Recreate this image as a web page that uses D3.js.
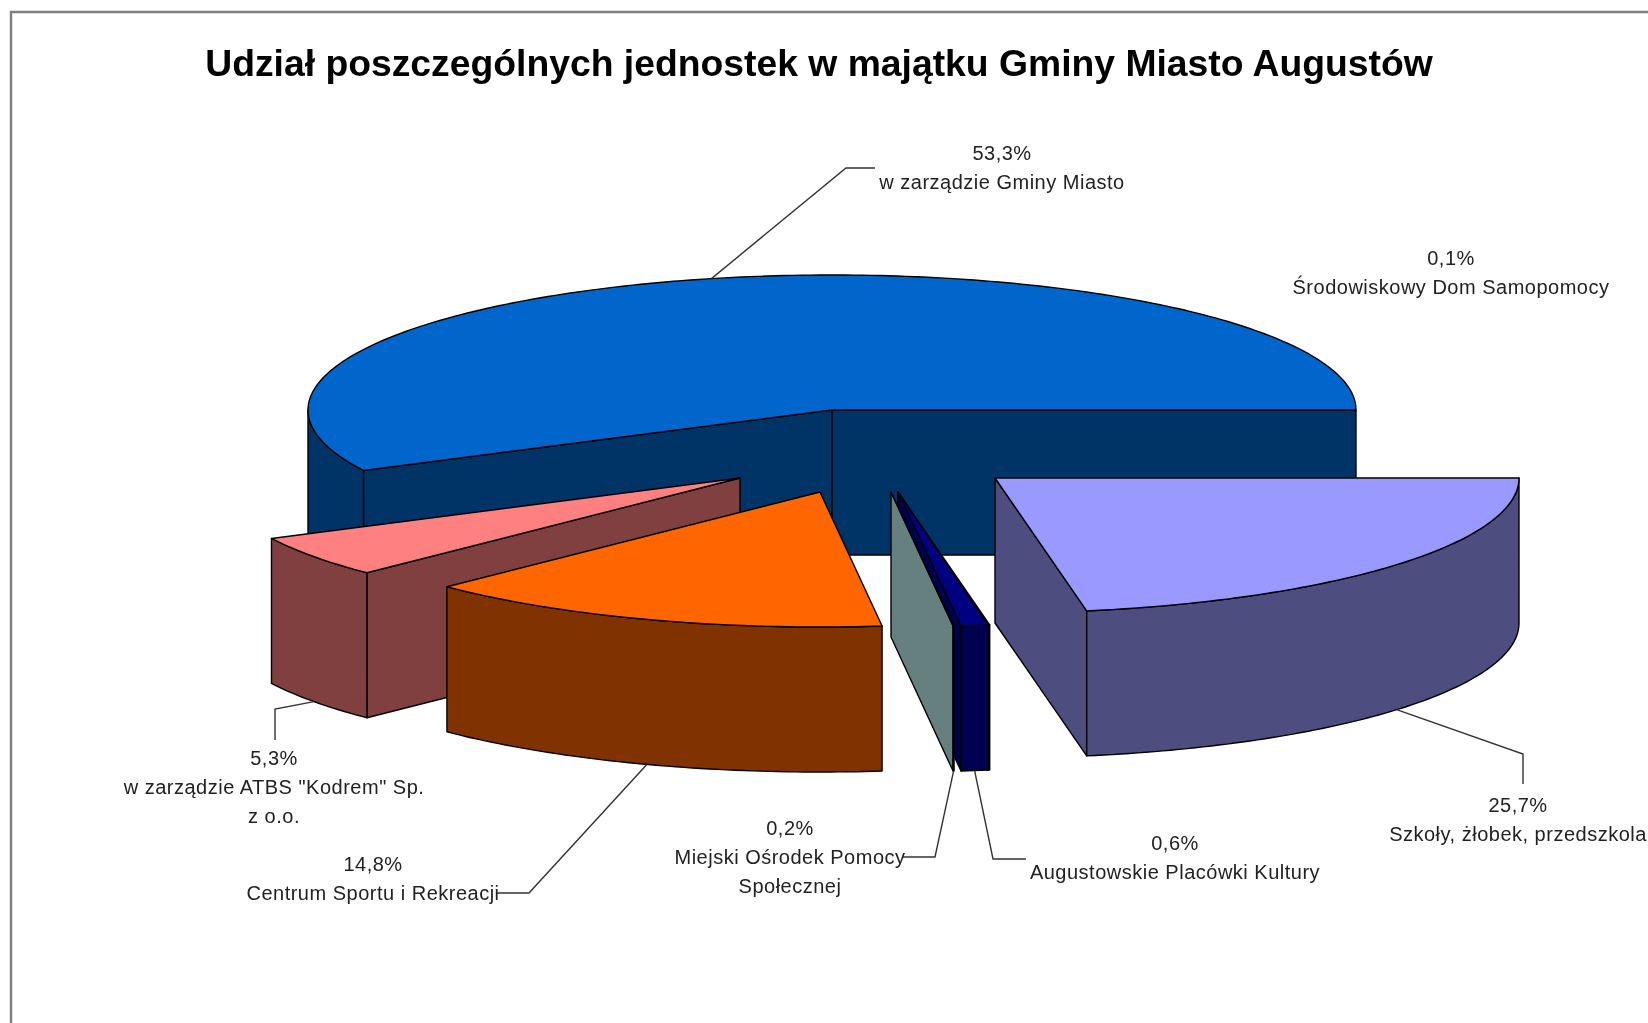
<!DOCTYPE html>
<html>
<head>
<meta charset="utf-8">
<script src="https://cdn.jsdelivr.net/npm/d3@7"></script>
<style>
  html, body { margin: 0; padding: 0; background: #fff; overflow: hidden; }
  text { font-family: "Liberation Sans", Arial, sans-serif; }
  #chart { filter: blur(0.5px); display: block; }
</style>
</head>
<body>
<svg id="chart" width="1648" height="1023"></svg>
<script>
const title = 'Udział poszczególnych jednostek w majątku Gminy Miasto Augustów';

// clockwise from the east edge of the pie, same order as in the picture
const categories = [
    ['Szkoły, żłobek, przedszkola'],
    ['Środowiskowy Dom Samopomocy'],
    ['Augustowskie Placówki Kultury'],
    ['Miejski Ośrodek Pomocy', 'Społecznej'],
    ['Centrum Sportu i Rekreacji'],
    ['w zarządzie ATBS "Kodrem" Sp.', 'z o.o.'],
    ['w zarządzie Gminy Miasto']
];
const percents = [25.7, 0.1, 0.6, 0.2, 14.8, 5.3, 53.3];
// share of the drawn circle as measured on the picture (the 3D view warps it away from the printed %)
const drawnShares = [22.2, 0.05, 0.83, 0.03, 14.5, 5.0, 57.39];

const topColors = ['#9999ff', '#660033', '#000080', '#ccffff', '#ff6600', '#ff8080', '#0066cc'];
const wallColors = ['#4d4d80', '#400020', '#000050', '#668080', '#803300', '#804040', '#003366'];

const svg = d3.select('#chart');

// pie geometry
const center = {x: 832, y: 410};
const rx = 524, ry = 135, depth = 145;
const explode = [[163, 68], [66, 82], [66, 82], [59, 82], [-12, 82], [-92, 68], [0, 0]];
const drawOrder = [6, 5, 4, 1, 2, 3, 0];

// elbow + text anchor of each callout
const callouts = [
    {elbow: [[1523, 754], [1523, 784]], tx: 1518, ty: 805},
    {elbow: [], tx: 1451, ty: 258},
    {elbow: [[993, 859], [1026, 859]], tx: 1175, ty: 843},
    {elbow: [[935, 857], [902, 857]], tx: 790, ty: 828},
    {elbow: [[529, 893], [497, 893]], tx: 373, ty: 864},
    {elbow: [[275, 709], [275, 740]], tx: 274, ty: 758},
    {elbow: [[846, 168], [875, 168]], tx: 1002, ty: 153}
];

const xScale = d3.scaleLinear().domain([-1, 1]).range([-rx, rx]);
const yScale = d3.scaleLinear().domain([-1, 1]).range([-ry, ry]);

const pie = d3.pie().sort(null).startAngle(Math.PI / 2).endAngle(Math.PI * 2.5);
const slices = pie(drawnShares);

const line = d3.line();

// point on the rim of slice i, angle in d3.pie terms (0 = north, clockwise)
function rim(i, a, drop) {
    return [
        center.x + explode[i][0] + xScale(Math.sin(a)),
        center.y + explode[i][1] + yScale(-Math.cos(a)) + (drop || 0)
    ];
}
function apex(i, drop) {
    return [center.x + explode[i][0], center.y + explode[i][1] + (drop || 0)];
}
function arcPoints(i, a0, a1, drop) {
    const n = Math.max(2, Math.ceil((a1 - a0) * 60));
    return d3.range(n + 1).map(k => rim(i, a0 + (a1 - a0) * k / n, drop));
}

// white page and the grey frame, right and bottom sides run off the picture
svg.append('rect').attr('width', 1648).attr('height', 1023).attr('fill', '#fff');
svg.append('path')
    .attr('d', line([[11, 1023], [11, 12], [1648, 12]]))
    .attr('fill', 'none')
    .attr('stroke', '#808080')
    .attr('stroke-width', 2.5);

svg.append('text')
    .attr('x', 819)
    .attr('y', 76)
    .attr('text-anchor', 'middle')
    .attr('font-size', 37.3)
    .attr('font-weight', 'bold')
    .attr('fill', '#000')
    .text(title);

const pieGroup = svg.append('g');

drawOrder.forEach(i => {
    const s = slices[i];
    const g = pieGroup.append('g').attr('class', 'slice');
    const wall = pts => g.append('path')
        .attr('d', line(pts) + 'Z')
        .attr('fill', wallColors[i])
        .attr('stroke', '#000')
        .attr('stroke-width', 1.4)
        .attr('stroke-linejoin', 'round');

    // radial walls that face the viewer
    const startFaces = Math.cos(s.startAngle - Math.PI / 2) < 0;
    const endFaces = Math.cos(s.endAngle - Math.PI / 2) > 0;
    if (startFaces) {
        wall([apex(i), rim(i, s.startAngle), rim(i, s.startAngle, depth), apex(i, depth)]);
    }
    if (endFaces) {
        wall([apex(i), rim(i, s.endAngle), rim(i, s.endAngle, depth), apex(i, depth)]);
    }

    // outer wall, only the front half of the circle shows
    const a0 = Math.max(s.startAngle, Math.PI / 2);
    const a1 = Math.min(s.endAngle, Math.PI * 1.5);
    if (a0 < a1) {
        wall(arcPoints(i, a0, a1, 0).concat(arcPoints(i, a0, a1, depth).reverse()));
    }

    g.append('path')
        .attr('d', line([apex(i)].concat(arcPoints(i, s.startAngle, s.endAngle, 0))) + 'Z')
        .attr('fill', topColors[i])
        .attr('stroke', '#000')
        .attr('stroke-width', 1.4)
        .attr('stroke-linejoin', 'round');
});

// callouts
callouts.forEach((c, i) => {
    const s = slices[i];
    const mid = (s.startAngle + s.endAngle) / 2;
    const front = Math.cos(mid) < 0;
    if (c.elbow.length) {
        svg.append('path')
            .attr('d', line([rim(i, mid, front ? depth : 0)].concat(c.elbow)))
            .attr('fill', 'none')
            .attr('stroke', '#333')
            .attr('stroke-width', 1.4);
    }
    const lines = [percents[i].toFixed(1).replace('.', ',') + '%'].concat(categories[i]);
    svg.append('text')
        .attr('text-anchor', 'middle')
        .attr('font-size', 20)
        .attr('letter-spacing', 0.5)
        .attr('fill', '#222')
        .selectAll('tspan')
        .data(lines)
        .join('tspan')
        .attr('x', c.tx)
        .attr('y', (d, k) => c.ty + 6.5 + k * 29.4)
        .text(d => d);
});
</script>
</body>
</html>
